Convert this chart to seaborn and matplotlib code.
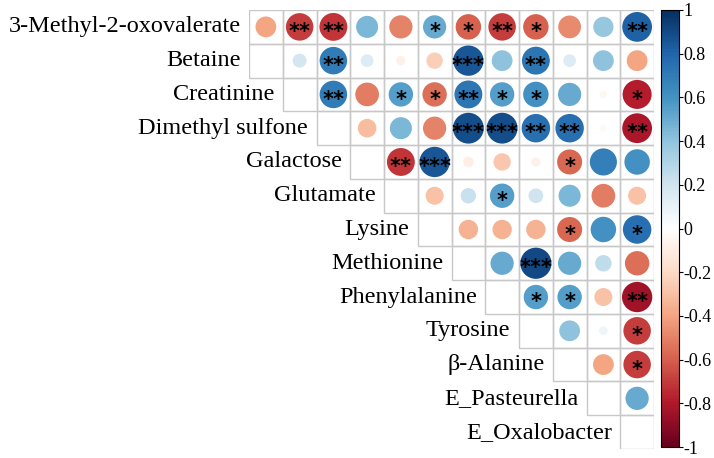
import numpy as np
import pandas as pd
import matplotlib
matplotlib.use('Agg')
import matplotlib.pyplot as plt
import seaborn as sns
from matplotlib.colors import LinearSegmentedColormap, Normalize
from matplotlib.patches import Rectangle
from matplotlib.cm import ScalarMappable

# variable names (rows); columns are labels[1:]
labels = ['3-Methyl-2-oxovalerate', 'Betaine', 'Creatinine', 'Dimethyl sulfone',
          'Galactose', 'Glutamate', 'Lysine', 'Methionine', 'Phenylalanine',
          'Tyrosine', 'β-Alanine', 'E_Pasteurella', 'E_Oxalobacter']

# row i: correlation of labels[i] with labels[i+1:]
corr_upper = [
    [-0.40, -0.70, -0.72, 0.45, -0.50, 0.50, -0.60, -0.70, -0.60, -0.48, 0.38, 0.82],
    [0.18, 0.70, 0.15, -0.08, -0.25, 0.85, 0.40, 0.72, 0.15, 0.40, -0.40],
    [0.70, -0.52, 0.55, -0.55, 0.72, 0.55, 0.60, 0.50, -0.05, -0.78],
    [-0.32, 0.45, -0.50, 0.88, 0.88, 0.75, 0.75, -0.04, -0.82],
    [-0.72, 0.85, -0.10, -0.28, -0.08, -0.58, 0.68, 0.60],
    [-0.30, 0.22, 0.55, 0.20, 0.45, -0.52, -0.30],
    [-0.35, -0.35, -0.35, -0.58, 0.60, 0.75],
    [0.50, 0.90, 0.50, 0.25, -0.55],
    [0.55, 0.55, -0.30, -0.85],
    [0.40, 0.07, -0.70],
    [-0.40, -0.70],
    [0.50],
]
stars_upper = [
    ['', '**', '**', '', '', '*', '*', '**', '*', '', '', '**'],
    ['', '**', '', '', '', '***', '', '**', '', '', ''],
    ['**', '', '*', '*', '**', '*', '*', '', '', '*'],
    ['', '', '', '***', '***', '**', '**', '', '**'],
    ['**', '***', '', '', '', '*', '', ''],
    ['', '', '*', '', '', '', ''],
    ['', '', '', '*', '', '*'],
    ['', '***', '', '', ''],
    ['*', '*', '', '**'],
    ['', '', '*'],
    ['', '*'],
    [''],
]
cbar_ticks = [1, 0.8, 0.6, 0.4, 0.2, 0, -0.2, -0.4, -0.6, -0.8, -1]

brewer_rdbu = ['#67001F', '#B2182B', '#D6604D', '#F4A582', '#FDDBC7', '#FFFFFF',
               '#D1E5F0', '#92C5DE', '#4393C3', '#2166AC', '#053061']
cmap = LinearSegmentedColormap.from_list('corr', brewer_rdbu, N=200)
norm = Normalize(-1, 1)

rows = []
for i, (vals, stars) in enumerate(zip(corr_upper, stars_upper)):
    for k, (v, s) in enumerate(zip(vals, stars)):
        rows.append({'row': i, 'col': i + k, 'r': v, 'absr': abs(v), 'star': s})
df = pd.DataFrame(rows)

n_rows = len(labels)
n_cols = len(labels) - 1

fig = plt.figure(figsize=(7.14, 4.58), dpi=100)
plt.rcParams['font.family'] = ['Liberation Serif', 'DejaVu Serif']
ax = fig.add_axes([249 / 714, 9 / 458, 405 / 714, 439 / 458])

# cell boxes (drawn cells incl. the empty diagonal one)
for i in range(n_rows):
    start = max(i - 1, 0)
    for c in range(start, n_cols):
        ax.add_patch(Rectangle((c - 0.5, i - 0.5), 1, 1, facecolor='none',
                               edgecolor='#c8c8c8', lw=1.0, zorder=1))

sns.scatterplot(data=df, x='col', y='row', hue='r', palette=cmap, hue_norm=(-1, 1),
                size='absr', sizes=(0, 560), size_norm=(0, 1), linewidth=0,
                legend=False, ax=ax, zorder=2)

for _, rw in df.iterrows():
    if rw['star']:
        ax.text(rw['col'], rw['row'] + 0.33, rw['star'], ha='center', va='baseline',
                fontsize=15, fontweight='bold', family='DejaVu Sans', color='black',
                zorder=3)

for i, lab in enumerate(labels):
    start = max(i - 1, 0)
    ax.text(start - 0.5 - 0.25, i, lab, ha='right', va='center', fontsize=17.5)

ax.set_xlim(-0.5, n_cols - 0.5)
ax.set_ylim(n_rows - 0.5, -0.5)
ax.axis('off')

cax = fig.add_axes([661 / 714, (458 - 447) / 458, 18 / 714, 437 / 458])
cb = fig.colorbar(ScalarMappable(norm=norm, cmap=cmap), cax=cax)
cb.set_ticks(cbar_ticks)
cb.set_ticklabels([f'{t:g}' for t in cbar_ticks])
cb.ax.tick_params(labelsize=13, length=3, width=0.8, pad=0.5)
cb.outline.set_linewidth(0.8)

fig.savefig('out.png', dpi=100)
